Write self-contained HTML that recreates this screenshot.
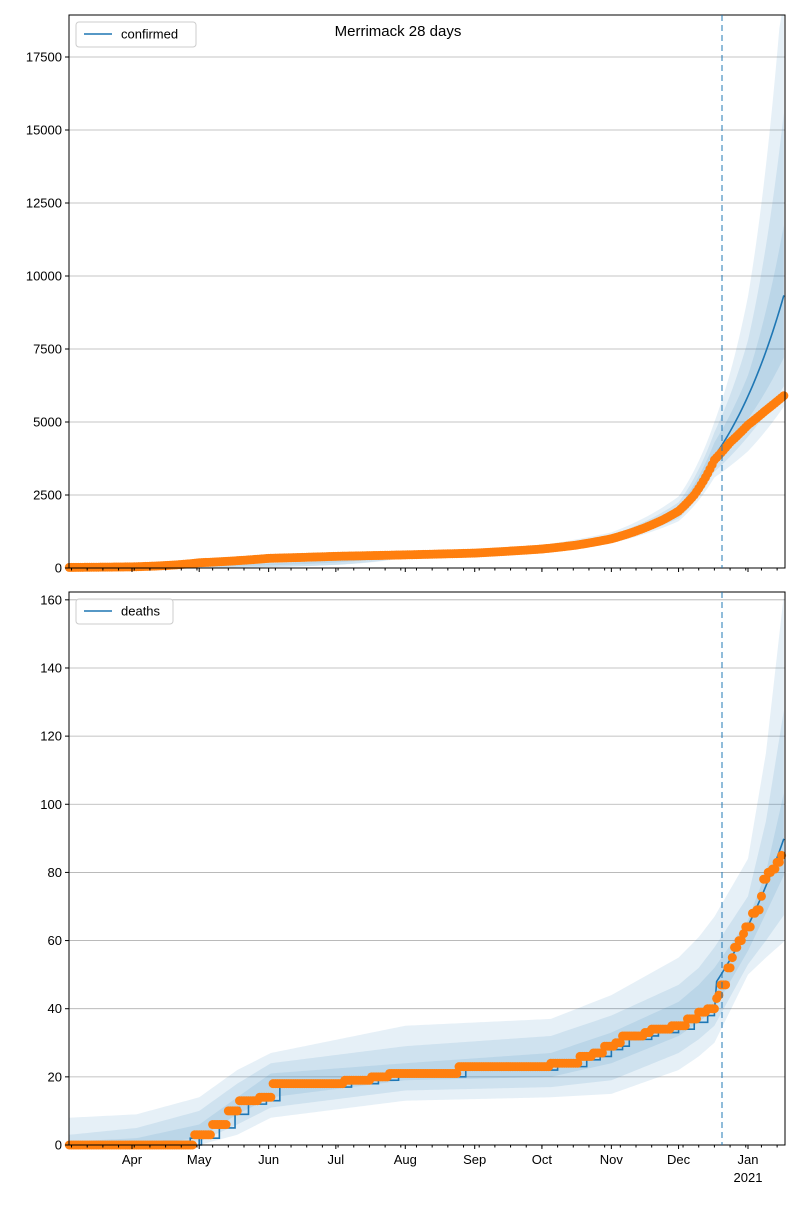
<!DOCTYPE html>
<html><head><meta charset="utf-8"><style>
body{margin:0;background:#fff;}
svg text{font-family:"Liberation Sans","DejaVu Sans",sans-serif;}
</style></head><body>
<svg id="s" width="800" height="1200" xmlns="http://www.w3.org/2000/svg"></svg>
<script>
const S=document.getElementById('s');let h='';
const X0=69,X1=785;
const xd=d=>132+(d-28)*2.24;
function interp(k,d,i,lg){for(let j=1;j<k.length;j++){if(d<=k[j][0]){const a=k[j-1],b=k[j];const t=(d-a[0])/(b[0]-a[0]);if(lg){const la=Math.log(Math.max(a[i],1)),lb=Math.log(Math.max(b[i],1));return Math.exp(la+(lb-la)*t);}return a[i]+(b[i]-a[i])*t;}}return k[k.length-1][i];}
function axes(top,bot,ymax,step){
  const yv=v=>bot-(v/ymax)*(bot-top);
  for(let v=step;v<=ymax;v+=step){h+=`<line x1="${X0}" x2="${X1}" y1="${yv(v)}" y2="${yv(v)}" stroke="#b0b0b0" stroke-width="0.8"/>`;}
  return yv;
}
function frame(top,bot,ymax,step,labels){
  const yv=v=>bot-(v/ymax)*(bot-top);
  h+=`<rect x="${X0}" y="${top}" width="${X1-X0}" height="${bot-top}" fill="none" stroke="#000" stroke-width="1"/>`;
  for(let v=0;v<=ymax;v+=step){const y=yv(v);h+=`<line x1="${X0-4}" x2="${X0}" y1="${y}" y2="${y}" stroke="#000"/><text x="${X0-7}" y="${y+4.5}" font-size="13" text-anchor="end">${v}</text>`;}
  const months=[[28,'Apr'],[58,'May'],[89,'Jun'],[119,'Jul'],[150,'Aug'],[181,'Sep'],[211,'Oct'],[242,'Nov'],[272,'Dec'],[303,'Jan']];
  for(let d=0;d<=319;d+=7){const x=xd(d+1);if(x>X0&&x<X1)h+=`<line x1="${x}" x2="${x}" y1="${bot}" y2="${bot+2.5}" stroke="#000"/>`;}
  months.forEach(m=>{const x=xd(m[0]);h+=`<line x1="${x}" x2="${x}" y1="${bot}" y2="${bot+4}" stroke="#000"/>`;if(labels){h+=`<text x="${x}" y="${bot+19}" font-size="13" text-anchor="middle">${m[1]}</text>`;}});
  if(labels)h+=`<text x="${xd(303)}" y="${bot+37}" font-size="13" text-anchor="middle">2021</text>`;
  h+=`<line x1="722" x2="722" y1="${top}" y2="${bot}" stroke="#1f77b4" stroke-opacity="0.55" stroke-width="1.8" stroke-dasharray="6,4"/>`;
}
function bands(keys,yv,top,bot,lg){
  for(let b=0;b<3;b++){let up=[],lo=[];for(let d=0;d<=319.6;d+=1){const x=xd(d);lo.push(`${x},${Math.min(bot,yv(interp(keys,d,1+b,lg)))}`);up.push(`${x},${Math.max(top,yv(interp(keys,d,6-b,lg)))}`);}
  h+=`<polygon points="${lo.join(' ')} ${up.reverse().join(' ')}" fill="#1f77b4" fill-opacity="0.11"/>`;}
}
// ---- top
{const top=15,bot=568,ymax=18938;const yv=axes(top,bot,ymax,2500);
bands([[0,1,1,10,30,50,80],[150,350,380,410,470,500,540],[211,560,600,630,700,740,790],[242,850,900,950,1070,1130,1220],[272,1600,1700,1820,2100,2250,2450],[288,3100,3300,3550,4300,4650,5000],[303,4000,4500,5100,6600,7800,9300],[319.6,5600,6300,7300,12000,16000,21000]],yv,top,bot,true);
const ok=[[0,20],[28,40],[58,180],[89,330],[119,400],[150,450],[181,510],[211,650],[226,780],[242,1000],[256,1350],[265,1650],[272,1950],[279,2500],[284,3100],[288,3700],[295,4300],[303,4900],[311,5400],[319,5900]];
let bl=[];for(let d=0;d<=319.6;d+=1){let v=d<=288?interp(ok,d,1,true)*1.03:3820*Math.exp(Math.log(9500/3820)*(d-288)/31.6);bl.push(`${xd(d)},${yv(v)}`);}
h+=`<polyline points="${bl.join(' ')}" fill="none" stroke="#1f77b4" stroke-width="1.6"/>`;
for(let d=0;d<=319;d++)h+=`<circle cx="${xd(d)}" cy="${yv(interp(ok,d,1,true))}" r="4.5" fill="#ff7f0e"/>`;
frame(top,bot,ymax,2500,false);
h+=`<text x="398" y="36" font-size="15" text-anchor="middle">Merrimack 28 days</text>`;
h+=`<rect x="76" y="22" width="120" height="25" rx="3" fill="#fff" fill-opacity="0.8" stroke="#ccc"/><line x1="84" x2="112" y1="34" y2="34" stroke="#1f77b4" stroke-width="1.6"/><text x="121" y="38.5" font-size="13">confirmed</text>`;}
// ---- bottom
{const top=592,bot=1145,ymax=162.3;const yv=axes(top,bot,ymax,20);
bands([[0,0,0,0,1,3,8],[30,0,0,0,2,5,9],[58,0,1,2,6,10,14],[75,3,6,9,14,18,22],[90,8,11,14,21,24,27],[150,13,16,19,24,29,35],[215,14,17,20,27,32,37],[242,15,19,24,33,38,44],[272,22,27,32,42,47,55],[281,26,31,36,47,52,61],[288,30,35,40,52,58,67],[303,50,53,57,66,73,84],[311,55,60,68,80,95,115],[319.6,60,68,80,105,130,165]],yv,top,bot,false);
const pts=[[69,0],[194,3],[212,6],[227,10],[229,12],[231,10],[240,13],[258,14],[272,18],[345,19],[370,20],[390,21],[458,23],[550,24],[580,26],[593,27],[603,29],[615,30],[621,32],[645,33],[650,34],[672,35],[687,37],[699,39],[707,40],[715,43],[718,44],[720,47],[728,52],[732,55],[735,58],[738,60],[742,62],[746,64],[752,68],[756,69],[760,73],[762,75],[764,78],[768,80],[772,81],[776,83],[780,85]];
const dv=x=>{let v=0;for(const p of pts){if(x>=p[0]-0.5)v=p[1];}return v;};
let bl=[];let prev=null;for(let d=0;d<=319.6;d+=1){const x=xd(d);let v;if(d<=288){v=Math.max(0,dv(x-7)-(d>60?1:0));if(d<58)v=Math.min(v,[0,0,2,2,3,4][Math.floor(d/10)]||0)+(d>30?Math.floor((d-30)/12):0);}else v=47*Math.exp(Math.log(91/47)*(d-288)/31.6);
if(prev!==null&&d<=288)bl.push(`${x},${yv(prev)}`);bl.push(`${x},${yv(v)}`);prev=v;}
h+=`<polyline points="${bl.join(' ')}" fill="none" stroke="#1f77b4" stroke-width="1.6"/>`;
for(let d=0;d<=319;d++){const x=xd(d);if(x>782)break;h+=`<circle cx="${x}" cy="${yv(dv(x))}" r="4.5" fill="#ff7f0e"/>`;}
frame(top,bot,ymax,20,true);
h+=`<rect x="76" y="599" width="97" height="25" rx="3" fill="#fff" fill-opacity="0.8" stroke="#ccc"/><line x1="84" x2="112" y1="611" y2="611" stroke="#1f77b4" stroke-width="1.6"/><text x="121" y="615.5" font-size="13">deaths</text>`;}
S.innerHTML=h;
</script>
</body></html>
